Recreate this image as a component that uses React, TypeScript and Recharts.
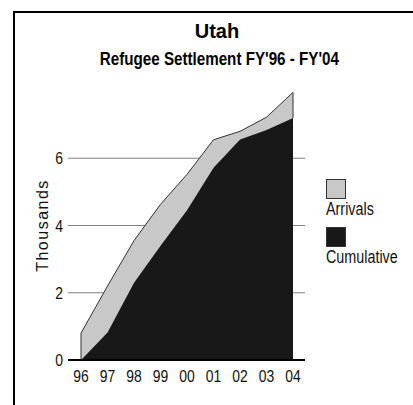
import { Area, AreaChart, CartesianGrid, ReferenceLine, XAxis, YAxis } from "recharts";

// fiscal years, values in thousands of persons
const years = ["96", "97", "98", "99", "00", "01", "02", "03", "04"];
const cumulative = [0, 0.82, 2.3, 3.4, 4.45, 5.72, 6.56, 6.84, 7.2];
const arrivals = [0.8, 1.38, 1.25, 1.23, 1.07, 0.83, 0.24, 0.38, 0.76];
const yTicks = [0, 2, 4, 6];

const data = years.map((year, i) => ({
  year,
  Cumulative: cumulative[i],
  Arrivals: arrivals[i],
}));

const GREY = "#c8c8c8";
const DARK = "#181818";
const ARIAL = "'Liberation Sans', Arial, sans-serif";
const SQUEEZE = 0.82; // the original's small text is drawn narrow

const legendItems = [
  { name: "Arrivals", color: GREY },
  { name: "Cumulative", color: DARK },
];

const last = years.length - 1;

function NarrowTick({ x, y, payload, anchor, dy }: any) {
  return (
    <g transform={`translate(${x},${y})`}>
      <text
        transform={`scale(${SQUEEZE},1)`}
        textAnchor={anchor}
        dy={dy}
        fill="#111"
        fontFamily={ARIAL}
        fontSize={17}
      >
        {payload.value}
      </text>
    </g>
  );
}

export default function App() {
  return (
    <div style={{ position: "fixed", left: 0, top: 0, width: 413, height: 405, background: "#fff", overflow: "hidden" }}>
      <div
        style={{
          position: "absolute",
          left: 13,
          top: 11,
          width: 410,
          height: 410,
          border: "2px solid #000",
        }}
      />
      <div
        style={{
          position: "absolute",
          left: 13,
          width: 408,
          top: 19,
          textAlign: "center",
          fontFamily: ARIAL,
          fontWeight: "bold",
          fontSize: 20,
          lineHeight: "24px",
        }}
      >
        Utah
      </div>
      <div
        style={{
          position: "absolute",
          left: 13,
          width: 408,
          top: 48,
          textAlign: "center",
          fontFamily: ARIAL,
          fontWeight: "bold",
          fontSize: 18.5,
          lineHeight: "22px",
          transform: `scaleX(${SQUEEZE})`,
          transformOrigin: "217px 0",
          whiteSpace: "nowrap",
        }}
      >
        Refugee Settlement FY'96 - FY'04
      </div>

      <div style={{ position: "absolute", left: 0, top: 0 }}>
        <AreaChart width={413} height={405} data={data} margin={{ top: 91, right: 108, bottom: 15, left: 28 }}>
          <CartesianGrid vertical={false} stroke="#808080" horizontalValues={yTicks} />
          <XAxis
            dataKey="year"
            interval={0}
            padding={{ left: 13, right: 12 }}
            tickLine={false}
            tickSize={0}
            tickMargin={9}
            height={30}
            axisLine={{ stroke: "#000", strokeWidth: 2 }}
            tick={<NarrowTick anchor="middle" dy="0.75em" />}
          />
          <YAxis
            width={40}
            domain={[0, 8]}
            ticks={yTicks}
            axisLine={false}
            tickLine={false}
            tickSize={0}
            tickMargin={5}
            tick={<NarrowTick anchor="end" dy="0.36em" />}
            label={{
              value: "Thousands",
              angle: -90,
              position: "insideLeft",
              offset: 14,
              style: { textAnchor: "middle", fontFamily: ARIAL, fontSize: 16, letterSpacing: 1.5, fill: "#111" },
            }}
          />
          <Area
            type="linear"
            dataKey="Cumulative"
            stackId="a"
            fill={DARK}
            fillOpacity={1}
            stroke={DARK}
            isAnimationActive={false}
          />
          <Area
            type="linear"
            dataKey="Arrivals"
            stackId="a"
            fill={GREY}
            fillOpacity={1}
            stroke="#333"
            strokeWidth={1}
            isAnimationActive={false}
          />
          <ReferenceLine
            segment={[
              { x: years[0], y: 0 },
              { x: years[0], y: arrivals[0] },
            ]}
            stroke="#333"
          />
          <ReferenceLine
            segment={[
              { x: years[last], y: cumulative[last] },
              { x: years[last], y: cumulative[last] + arrivals[last] },
            ]}
            stroke="#333"
          />
        </AreaChart>
      </div>

      {/* Legend */}
      <div style={{ position: "absolute", left: 326, top: 179, fontFamily: ARIAL, fontSize: 17.5, color: "#111" }}>
        {legendItems.map((item) => (
          <div key={item.name} style={{ marginBottom: 8 }}>
            <div style={{ width: 18, height: 18, background: item.color, border: "1px solid #333" }} />
            <div
              style={{
                lineHeight: "19px",
                marginTop: 1,
                transform: `scaleX(${SQUEEZE})`,
                transformOrigin: "0 0",
                whiteSpace: "nowrap",
              }}
            >
              {item.name}
            </div>
          </div>
        ))}
      </div>
    </div>
  );
}
